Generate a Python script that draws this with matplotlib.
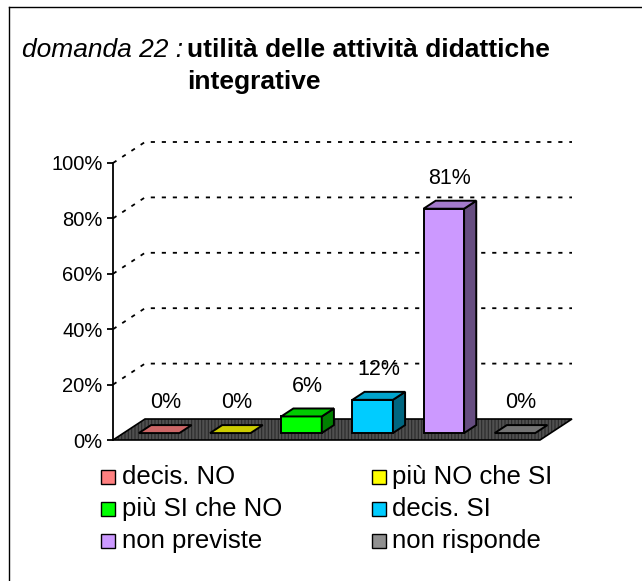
import matplotlib
matplotlib.use("Agg")
import matplotlib.pyplot as plt
from matplotlib.patches import Polygon, Rectangle
from matplotlib.lines import Line2D
import matplotlib.colors as mcolors
import numpy as np

plt.rcParams['font.family'] = ['Liberation Sans', 'DejaVu Sans']
plt.rcParams['hatch.linewidth'] = 0.8

# ---- data ----
categories = ["decis. NO", "più NO che SI", "più SI che NO", "decis. SI", "non previste", "non risponde"]
values = [0, 0, 6, 12, 81, 0]
colors = ["#FF8080", "#FFFF00", "#00FF00", "#00CCFF", "#CC99FF", "#909090"]
yticks = [0, 20, 40, 60, 80, 100]
title_italic = "domanda 22 :"
title_bold_lines = ["utilità delle attività didattiche", "integrative"]

W, H = 642, 581
fig = plt.figure(figsize=(W / 100, H / 100), dpi=100)
fig.patch.set_facecolor("white")

def fx(x):
    return x / W

def fy(y):
    return 1 - y / H

# frame (left and top)
fig.add_artist(Line2D([fx(8.5), fx(8.5)], [fy(7), 0], transform=fig.transFigure, color="black", lw=1))
fig.add_artist(Line2D([fx(8.5), 1], [fy(7), fy(7)], transform=fig.transFigure, color="black", lw=1))

# title
fig.text(fx(22), fy(57), title_italic, fontsize=19, style="italic", ha="left", va="baseline")
for k, line in enumerate(title_bold_lines):
    fig.text(fx(187), fy(57 + 32 * k), line, fontsize=19, weight="bold", ha="left", va="baseline")

# main axes: front plane
left_px, right_px, top_px, bot_px = 113, 540, 163, 440
ax = fig.add_axes([fx(left_px), fy(bot_px), (right_px - left_px) / W, (bot_px - top_px) / H])
ax.set_xlim(0, len(categories))
ax.set_ylim(0, 100)
ax.patch.set_alpha(0)
for s in ["top", "right", "bottom"]:
    ax.spines[s].set_visible(False)
ax.spines["left"].set_linewidth(1.3)
ax.spines["left"].set_zorder(10)
ax.set_xticks([])
ax.set_yticks(yticks)
ax.set_yticklabels([f"{v}%" for v in yticks], fontsize=14.5)
ax.tick_params(axis="y", direction="out", length=4.5, width=1.3, pad=3)

# depth vector in data units
px_per_x = (right_px - left_px) / len(categories)
px_per_y = (bot_px - top_px) / 100
ddx = 32 / px_per_x
ddy = 21 / px_per_y

n = len(categories)
# gridlines (back wall + side diagonal)
for v in yticks[1:]:
    ax.plot([0, ddx, n + ddx], [v, v + ddy, v + ddy], color="black", lw=1.3,
            linestyle=(0, (2.3, 3.8)), clip_on=False, zorder=1)

# floor
floor_pts = [(0, 0), (n, 0), (n + ddx, ddy), (ddx, ddy)]
ax.add_patch(Polygon(floor_pts, closed=True, facecolor="#505050", edgecolor="#2a2a2a",
                     hatch="|||||", lw=0, clip_on=False, zorder=2))
ax.add_patch(Polygon(floor_pts, closed=True, fill=False, edgecolor="black", lw=1.2,
                     clip_on=False, zorder=2.5))

# bars
bw = 0.57
f0, f1 = 0.33, 0.71
bx = f0 * ddx
by = f0 * ddy
ex = (f1 - f0) * ddx
ey = (f1 - f0) * ddy

def shade(c, k):
    r, g, b = mcolors.to_rgb(c)
    return (r * k, g * k, b * k)

for i, (v, c) in enumerate(zip(values, colors)):
    xc = i + 0.5 + bx
    xl = xc - bw / 2
    xr = xc + bw / 2
    top = by + v
    if v > 0:
        ax.bar(xc, v, width=bw, bottom=by, color=c, edgecolor="black", lw=1.4,
               clip_on=False, zorder=4)
        ax.add_patch(Polygon([(xr, by), (xr, top), (xr + ex, top + ey), (xr + ex, by + ey)],
                             closed=True, facecolor=shade(c, 0.5), edgecolor="black", lw=1.4,
                             clip_on=False, zorder=4))
    ax.add_patch(Polygon([(xl, top), (xr, top), (xr + ex, top + ey), (xl + ex, top + ey)],
                         closed=True, facecolor=shade(c, 0.8), edgecolor="black", lw=1.4,
                         clip_on=False, zorder=4))
    ax.annotate(f"{v}%", xy=(xc + ex / 2, top + ey / 2), xytext=(0, 19),
                textcoords="offset points", ha="center", va="center", fontsize=15.5,
                annotation_clip=False, zorder=6)

# legend
col_sq = [101, 372]
col_tx = [122, 392]
row_y = [477, 509, 541]
sq = 14
for idx, (cat, c) in enumerate(zip(categories, colors)):
    r, cc = idx // 2, idx % 2
    y = row_y[r]
    fig.add_artist(Rectangle((fx(col_sq[cc]), fy(y + sq / 2)), sq / W, sq / H,
                             transform=fig.transFigure, facecolor=c, edgecolor="black", lw=1))
    fig.text(fx(col_tx[cc]), fy(y), cat, fontsize=18.5, ha="left", va="center")

fig.savefig("out.png", dpi=100)
